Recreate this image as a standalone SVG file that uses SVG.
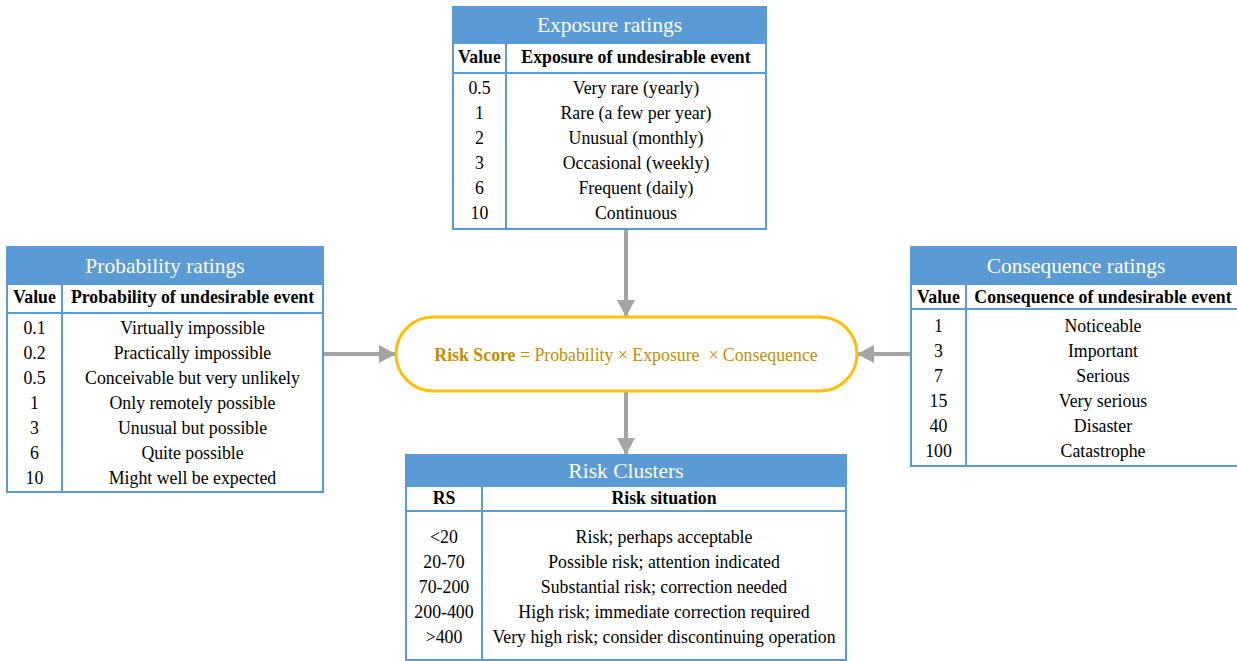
<svg xmlns="http://www.w3.org/2000/svg" width="1237" height="661" viewBox="0 0 1237 661">
<style>
.box{fill:#fff;stroke:#5B9BD5;stroke-width:2;}
.hdr{fill:#5B9BD5;stroke:#5B9BD5;stroke-width:2;}
.ln{stroke:#5B9BD5;stroke-width:2;fill:none;}
.title{fill:#fff;font-size:21.5px;text-anchor:middle;}
.ch{fill:#000;font-size:17.8px;font-weight:bold;text-anchor:middle;}
.td{fill:#000;font-size:17.8px;text-anchor:middle;}
.conn{stroke:#A5A5A5;stroke-width:4;fill:none;marker-end:url(#ah);}
</style>
<defs>
<marker id="ah" markerUnits="userSpaceOnUse" markerWidth="18" markerHeight="20" refX="17" refY="10" orient="auto">
<path d="M0,1 L17,10 L0,19 Z" fill="#A5A5A5"/>
</marker>
</defs>

<g id="connectors">
<line class="conn" x1="626" y1="229" x2="626" y2="317"/>
<line class="conn" x1="626" y1="391" x2="626" y2="455"/>
<line class="conn" x1="323" y1="354" x2="396" y2="354"/>
<line class="conn" x1="911" y1="354" x2="857" y2="354"/>
</g>

<g id="exposure">
<rect class="box" x="453" y="7" width="313" height="222"/>
<rect class="hdr" x="453" y="7" width="313" height="36"/>
<line class="ln" x1="453" y1="73" x2="766" y2="73"/>
<line class="ln" x1="506" y1="43" x2="506" y2="229"/>
<text font-family="Liberation Serif" class="title" x="609.5" y="32">Exposure ratings</text>
<text font-family="Liberation Serif" class="ch" x="479.5" y="63">Value</text>
<text font-family="Liberation Serif" class="ch" x="636" y="63">Exposure of undesirable event</text>
<text font-family="Liberation Serif" class="td" x="479.5" y="94">0.5</text><text font-family="Liberation Serif" class="td" x="636" y="94">Very rare (yearly)</text>
<text font-family="Liberation Serif" class="td" x="479.5" y="119">1</text><text font-family="Liberation Serif" class="td" x="636" y="119">Rare (a few per year)</text>
<text font-family="Liberation Serif" class="td" x="479.5" y="144">2</text><text font-family="Liberation Serif" class="td" x="636" y="144">Unusual (monthly)</text>
<text font-family="Liberation Serif" class="td" x="479.5" y="169">3</text><text font-family="Liberation Serif" class="td" x="636" y="169">Occasional (weekly)</text>
<text font-family="Liberation Serif" class="td" x="479.5" y="194">6</text><text font-family="Liberation Serif" class="td" x="636" y="194">Frequent (daily)</text>
<text font-family="Liberation Serif" class="td" x="479.5" y="219">10</text><text font-family="Liberation Serif" class="td" x="636" y="219">Continuous</text>
</g>

<g id="probability">
<rect class="box" x="7" y="247" width="316" height="245"/>
<rect class="hdr" x="7" y="247" width="316" height="37"/>
<line class="ln" x1="7" y1="313" x2="323" y2="313"/>
<line class="ln" x1="62" y1="284" x2="62" y2="492"/>
<text font-family="Liberation Serif" class="title" x="165" y="273">Probability ratings</text>
<text font-family="Liberation Serif" class="ch" x="34.5" y="303">Value</text>
<text font-family="Liberation Serif" class="ch" x="192.5" y="303">Probability of undesirable event</text>
<text font-family="Liberation Serif" class="td" x="34.5" y="334">0.1</text><text font-family="Liberation Serif" class="td" x="192.5" y="334">Virtually impossible</text>
<text font-family="Liberation Serif" class="td" x="34.5" y="359">0.2</text><text font-family="Liberation Serif" class="td" x="192.5" y="359">Practically impossible</text>
<text font-family="Liberation Serif" class="td" x="34.5" y="384">0.5</text><text font-family="Liberation Serif" class="td" x="192.5" y="384">Conceivable but very unlikely</text>
<text font-family="Liberation Serif" class="td" x="34.5" y="409">1</text><text font-family="Liberation Serif" class="td" x="192.5" y="409">Only remotely possible</text>
<text font-family="Liberation Serif" class="td" x="34.5" y="434">3</text><text font-family="Liberation Serif" class="td" x="192.5" y="434">Unusual but possible</text>
<text font-family="Liberation Serif" class="td" x="34.5" y="459">6</text><text font-family="Liberation Serif" class="td" x="192.5" y="459">Quite possible</text>
<text font-family="Liberation Serif" class="td" x="34.5" y="484">10</text><text font-family="Liberation Serif" class="td" x="192.5" y="484">Might well be expected</text>
</g>

<g id="consequence">
<rect class="box" x="911" y="247" width="330" height="219"/>
<rect class="hdr" x="911" y="247" width="330" height="37"/>
<line class="ln" x1="911" y1="309" x2="1241" y2="309"/>
<line class="ln" x1="966" y1="284" x2="966" y2="466"/>
<text font-family="Liberation Serif" class="title" x="1076" y="273">Consequence ratings</text>
<text font-family="Liberation Serif" class="ch" x="938.5" y="303">Value</text>
<text font-family="Liberation Serif" class="ch" x="1103" y="303">Consequence of undesirable event</text>
<text font-family="Liberation Serif" class="td" x="938.5" y="332">1</text><text font-family="Liberation Serif" class="td" x="1103" y="332">Noticeable</text>
<text font-family="Liberation Serif" class="td" x="938.5" y="357">3</text><text font-family="Liberation Serif" class="td" x="1103" y="357">Important</text>
<text font-family="Liberation Serif" class="td" x="938.5" y="382">7</text><text font-family="Liberation Serif" class="td" x="1103" y="382">Serious</text>
<text font-family="Liberation Serif" class="td" x="938.5" y="407">15</text><text font-family="Liberation Serif" class="td" x="1103" y="407">Very serious</text>
<text font-family="Liberation Serif" class="td" x="938.5" y="432">40</text><text font-family="Liberation Serif" class="td" x="1103" y="432">Disaster</text>
<text font-family="Liberation Serif" class="td" x="938.5" y="457">100</text><text font-family="Liberation Serif" class="td" x="1103" y="457">Catastrophe</text>
</g>

<g id="riskscore">
<rect x="396" y="317" width="461" height="74" rx="37" ry="37" fill="#fff" stroke="#FFC000" stroke-width="3"/>
<text font-family="Liberation Serif" x="626" y="361" text-anchor="middle" font-size="17.8" fill="#BF8F00"><tspan font-weight="bold">Risk Score</tspan> = Probability × Exposure&#160; × Consequence</text>
</g>

<g id="riskclusters">
<rect class="box" x="406" y="455" width="440" height="205"/>
<rect class="hdr" x="406" y="455" width="440" height="31"/>
<line class="ln" x1="406" y1="511" x2="846" y2="511"/>
<line class="ln" x1="482" y1="486" x2="482" y2="660"/>
<text font-family="Liberation Serif" class="title" x="626" y="478">Risk Clusters</text>
<text font-family="Liberation Serif" class="ch" x="444" y="504">RS</text>
<text font-family="Liberation Serif" class="ch" x="664" y="504">Risk situation</text>
<text font-family="Liberation Serif" class="td" x="444" y="543">&lt;20</text><text font-family="Liberation Serif" class="td" x="664" y="543">Risk; perhaps acceptable</text>
<text font-family="Liberation Serif" class="td" x="444" y="568">20-70</text><text font-family="Liberation Serif" class="td" x="664" y="568">Possible risk; attention indicated</text>
<text font-family="Liberation Serif" class="td" x="444" y="593">70-200</text><text font-family="Liberation Serif" class="td" x="664" y="593">Substantial risk; correction needed</text>
<text font-family="Liberation Serif" class="td" x="444" y="618">200-400</text><text font-family="Liberation Serif" class="td" x="664" y="618">High risk; immediate correction required</text>
<text font-family="Liberation Serif" class="td" x="444" y="643">&gt;400</text><text font-family="Liberation Serif" class="td" x="664" y="643">Very high risk; consider discontinuing operation</text>
</g>
</svg>
